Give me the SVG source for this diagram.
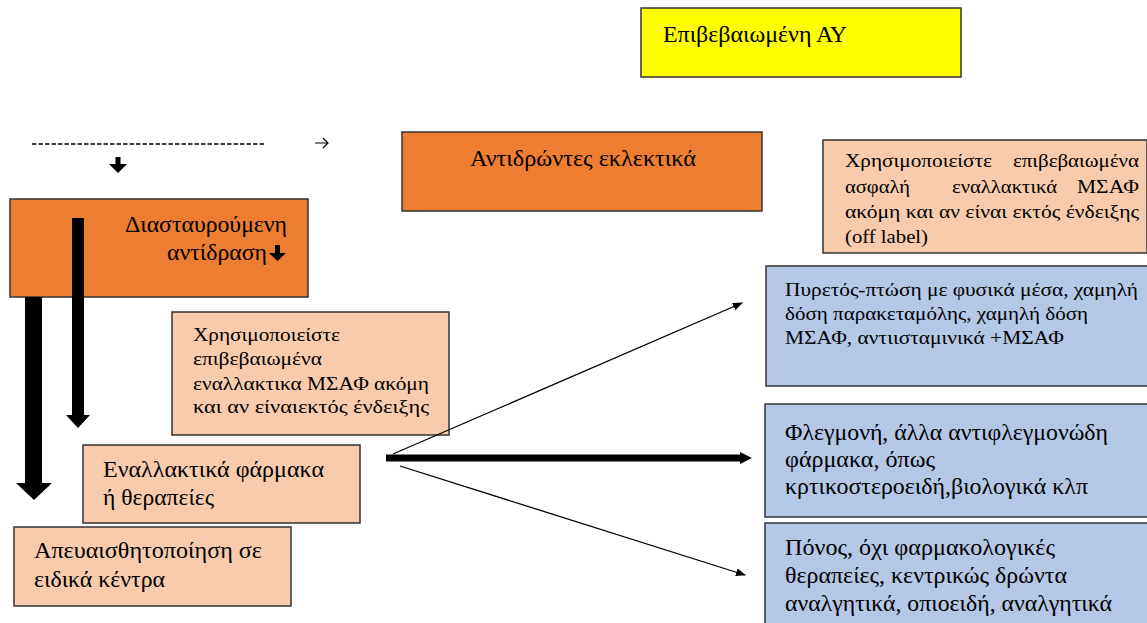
<svg xmlns="http://www.w3.org/2000/svg" width="1147" height="623" viewBox="0 0 1147 623">
<defs>
<style>
.t{font-family:"Liberation Serif","DejaVu Serif","Times New Roman",serif;fill:#000}
.s17{font-size:19px}
.s20{font-size:22.5px}
.s25{font-size:23px}
.box{stroke:#333;stroke-width:1.5}
.yel{fill:#FFFF00}
.org{fill:#ED7D31}
.pch{fill:#F8CBAD}
.blu{fill:#B4C7E7}
</style>
<marker id="ah" markerWidth="10" markerHeight="8" refX="9" refY="4" orient="auto" markerUnits="userSpaceOnUse" viewBox="0 0 10 8"><path d="M0,0 L10,4 L0,8 Z" fill="#000"/></marker>
</defs>
<rect width="1147" height="623" fill="#fff"/>

<g id="n-confirmed">
<rect class="box yel" x="641" y="8" width="320" height="69"/>
<text class="t s20" x="663" y="42" textLength="184" lengthAdjust="spacingAndGlyphs">Επιβεβαιωμένη ΑΥ</text>
</g>

<g id="n-selective">
<rect class="box org" x="402" y="132" width="360" height="79"/>
<text class="t s20" x="470" y="166" textLength="226" lengthAdjust="spacingAndGlyphs">Αντιδρώντες εκλεκτικά</text>
</g>

<g id="n-cross">
<rect class="box org" x="10" y="199" width="298" height="98"/>
<text class="t s20" x="125" y="232" textLength="162" lengthAdjust="spacingAndGlyphs">Διασταυρούμενη</text>
<text class="t s20" x="167" y="260" textLength="100" lengthAdjust="spacingAndGlyphs">αντίδραση</text>
<path d="M275,245 h5 v8 h6 l-8.5,8 l-8.5,-8 h6 z" fill="#000"/>
</g>

<g id="n-offlabel">
<rect class="box pch" x="823" y="140" width="324" height="113"/>
<text class="t s17" x="845" y="167" textLength="147" lengthAdjust="spacingAndGlyphs">Χρησιμοποιείστε</text>
<text class="t s17" x="1013" y="167" textLength="126" lengthAdjust="spacingAndGlyphs">επιβεβαιωμένα</text>
<text class="t s17" x="845" y="193" textLength="65" lengthAdjust="spacingAndGlyphs">ασφαλή</text>
<text class="t s17" x="952" y="193" textLength="105" lengthAdjust="spacingAndGlyphs">εναλλακτικά</text>
<text class="t s17" x="1077" y="193" textLength="62" lengthAdjust="spacingAndGlyphs">ΜΣΑΦ</text>
<text class="t s17" x="845" y="218" textLength="294" lengthAdjust="spacingAndGlyphs">ακόμη και αν είναι  εκτός ένδειξης</text>
<text class="t s17" x="845" y="243" textLength="83" lengthAdjust="spacingAndGlyphs">(off label)</text>
</g>

<g id="n-fever">
<rect class="box blu" x="766" y="266" width="390" height="120"/>
<text class="t s17" x="785" y="296" textLength="353" lengthAdjust="spacingAndGlyphs">Πυρετός-πτώση με φυσικά μέσα, χαμηλή</text>
<text class="t s17" x="785" y="320" textLength="303" lengthAdjust="spacingAndGlyphs">δόση παρακεταμόλης, χαμηλή δόση</text>
<text class="t s17" x="785" y="344" textLength="279" lengthAdjust="spacingAndGlyphs">ΜΣΑΦ, αντιισταμινικά +ΜΣΑΦ</text>
</g>

<g id="n-inflam">
<rect class="box blu" x="765" y="404" width="390" height="113"/>
<text class="t s20" x="785" y="440" textLength="323" lengthAdjust="spacingAndGlyphs">Φλεγμονή, άλλα αντιφλεγμονώδη</text>
<text class="t s20" x="785" y="467" textLength="150" lengthAdjust="spacingAndGlyphs">φάρμακα, όπως</text>
<text class="t s20" x="785" y="494" textLength="303" lengthAdjust="spacingAndGlyphs">κρτικοστεροειδή,βιολογικά κλπ</text>
</g>

<g id="n-pain">
<rect class="box blu" x="765" y="523" width="390" height="110"/>
<text class="t s20" x="785" y="555" textLength="270" lengthAdjust="spacingAndGlyphs">Πόνος, όχι φαρμακολογικές</text>
<text class="t s20" x="785" y="583" textLength="282" lengthAdjust="spacingAndGlyphs">θεραπείες, κεντρικώς δρώντα</text>
<text class="t s20" x="785" y="611" textLength="327" lengthAdjust="spacingAndGlyphs">αναλγητικά, οπιοειδή, αναλγητικά</text>
</g>

<g id="n-use">
<rect class="box pch" x="172" y="312" width="277" height="123"/>
<text class="t s17" x="193" y="341" textLength="147" lengthAdjust="spacingAndGlyphs">Χρησιμοποιείστε</text>
<text class="t s17" x="193" y="365" textLength="129" lengthAdjust="spacingAndGlyphs">επιβεβαιωμένα</text>
<text class="t s17" x="193" y="390" textLength="236" lengthAdjust="spacingAndGlyphs">εναλλακτικα ΜΣΑΦ ακόμη</text>
<text class="t s17" x="193" y="413" textLength="236" lengthAdjust="spacingAndGlyphs">και  αν  είναιεκτός  ένδειξης</text>
</g>

<g id="n-alt">
<rect class="box pch" x="83" y="445" width="277" height="78"/>
<text class="t s25" x="103" y="477" textLength="221" lengthAdjust="spacingAndGlyphs">Εναλλακτικά φάρμακα</text>
<text class="t s25" x="103" y="505" textLength="111" lengthAdjust="spacingAndGlyphs">ή θεραπείες</text>
</g>

<g id="n-desens">
<rect class="box pch" x="14" y="527" width="277" height="79"/>
<text class="t s20" x="34" y="558" textLength="228" lengthAdjust="spacingAndGlyphs">Απευαισθητοποίηση σε</text>
<text class="t s20" x="34" y="587" textLength="131" lengthAdjust="spacingAndGlyphs">ειδικά κέντρα</text>
</g>

<g id="connectors">
<line x1="32" y1="144" x2="265" y2="144" stroke="#000" stroke-width="1.6" stroke-dasharray="4.5,2"/>
<path d="M315,143 h13 M323,138 l5,5 l-5,5" stroke="#000" stroke-width="1.2" fill="none"/>
<path d="M115.5,157 h5 v7 h6.5 l-9,9 l-9,-9 h6.5 z" fill="#000"/>
<path d="M72,218 h12 v197 h6 l-12,13 l-12,-13 h6 z" fill="#000"/>
<path d="M25,297 h17 v186 h10 l-18,17 l-18,-17 h9 z" fill="#000"/>
<line x1="386" y1="458" x2="744" y2="458" stroke="#000" stroke-width="7"/>
<path d="M740,452 L752,458 L740,464 Z" fill="#000"/>
<line x1="393" y1="454" x2="742" y2="303" stroke="#000" stroke-width="1.3" marker-end="url(#ah)"/>
<line x1="400" y1="466" x2="745" y2="575" stroke="#000" stroke-width="1.3" marker-end="url(#ah)"/>
</g>
</svg>
